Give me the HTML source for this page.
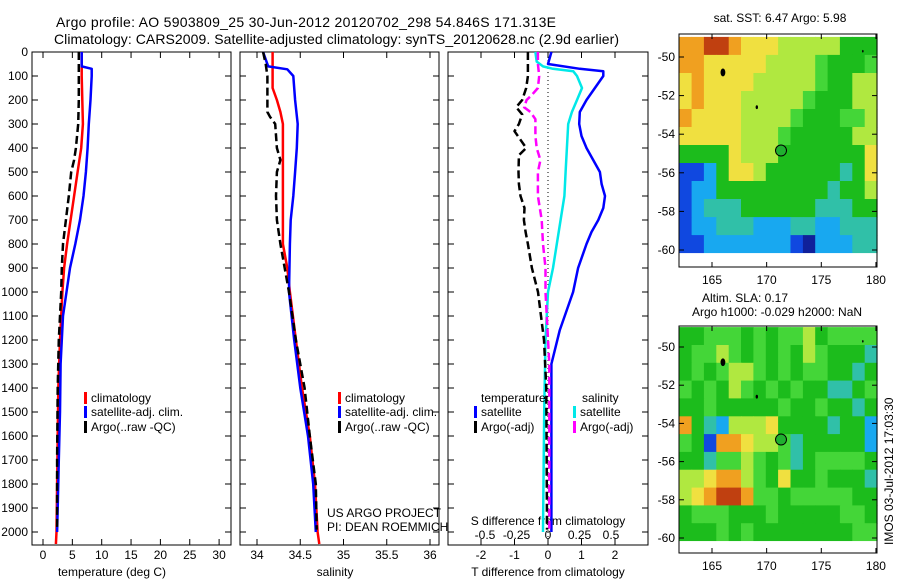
<!DOCTYPE html>
<html><head><meta charset="utf-8"><style>
html,body{margin:0;padding:0;background:#fff;}
svg{display:block;font-family:"Liberation Sans",sans-serif;}
</style></head><body>
<svg id="fig" width="900" height="580" viewBox="0 0 900 580" xmlns="http://www.w3.org/2000/svg">
<text x="56" y="27" font-size="14" textLength="500">Argo profile: AO 5903809_25 30-Jun-2012 20120702_298 54.846S 171.313E</text>
<text x="54" y="44" font-size="14" textLength="565">Climatology: CARS2009. Satellite-adjusted climatology: synTS_20120628.nc (2.9d earlier)</text>
<g id="g"></g>
</svg>
<script>
// ---- profile data ----
const tClimDepth=[0,100,200,300,400,500,600,700,800,900,1000,1200,1400,1600,1800,2000,2050];
const tClim=[6.6,6.6,6.7,6.8,6.5,5.9,5.3,4.7,4.1,3.6,3.3,2.9,2.6,2.5,2.4,2.3,2.2];
const tSatDepth=[0,60,70,100,200,300,400,500,600,700,800,900,1000,1100,1300,1500,1700,1900,2000];
const tSat=[6.6,6.6,8.3,8.3,8.1,7.8,7.6,7.3,6.9,6.3,5.5,4.6,4.0,3.4,3.0,2.9,2.7,2.5,2.4];
const tArgoDepth=[0,200,300,400,450,500,600,700,800,900,1000,1200,1400,1700,1990];
const tArgo=[6.1,6.1,6.0,5.6,5.3,4.8,4.4,3.9,3.4,3.2,3.1,2.7,2.5,2.4,2.4];
const sClimDepth=[0,150,200,250,300,800,900,1000,1200,1400,1600,1800,2000,2050];
const sClim=[34.18,34.18,34.23,34.27,34.30,34.30,34.35,34.38,34.45,34.52,34.61,34.67,34.70,34.72];
const sSatDepth=[0,60,72,100,200,300,400,500,600,700,800,1000,1200,1400,1600,1800,2000];
const sSat=[34.07,34.13,34.35,34.42,34.44,34.47,34.46,34.44,34.42,34.39,34.38,34.37,34.43,34.50,34.59,34.65,34.68];
const sArgoDepth=[0,50,100,250,270,300,400,450,500,600,700,800,900,1000,1200,1400,1600,1800,1990];
const sArgo=[34.07,34.10,34.12,34.12,34.15,34.21,34.23,34.27,34.23,34.22,34.23,34.27,34.32,34.37,34.45,34.55,34.61,34.68,34.69];
const dTSatDepth=[0,50,70,80,100,150,200,250,300,350,400,450,500,550,600,650,700,750,800,900,1000,1160,1300,1400,2000];
const dTSat=[0.1,0,0.95,1.65,1.65,1.4,1.15,0.95,0.93,1.0,1.15,1.35,1.55,1.6,1.7,1.65,1.5,1.3,1.15,0.9,0.75,0.35,0.1,0.1,0.1];
const dTArgoDepth=[0,100,150,200,230,260,300,330,370,400,430,500,550,600,650,700,750,800,900,1000,1200,1400,1990];
const dTArgo=[-0.6,-0.6,-0.65,-0.77,-0.95,-0.77,-0.87,-1.0,-0.8,-0.65,-0.87,-0.88,-0.87,-0.82,-0.7,-0.72,-0.67,-0.6,-0.48,-0.3,-0.12,-0.05,-0.03];
const dSSatDepth=[0,40,60,70,80,100,150,200,250,300,400,500,600,700,800,900,1000,1200,1500,2000];
const dSSat=[-0.1,-0.09,-0.04,0.04,0.2,0.23,0.27,0.23,0.19,0.16,0.15,0.14,0.13,0.1,0.07,0.04,0,-0.02,-0.03,-0.04];
const dSArgoDepth=[0,50,100,150,180,200,230,250,280,350,400,450,500,600,700,800,900,1000,1300,1990];
const dSArgo=[-0.08,-0.08,-0.07,-0.08,-0.13,-0.17,-0.19,-0.14,-0.1,-0.1,-0.09,-0.06,-0.08,-0.08,-0.05,-0.04,-0.02,-0.02,0.01,0.01];
const depthTicks=[0,100,200,300,400,500,600,700,800,900,1000,1100,1200,1300,1400,1500,1600,1700,1800,1900,2000];
const tTicks=[0,5,10,15,20,25,30];
const sTicks=[34,34.5,35,35.5,36];
const sTickLabels=["34","34.5","35","35.5","36"];
const dTTicks=[-2,-1,0,1,2];
const dSTicks=[-0.5,-0.25,0,0.25,0.5];
const dSTickLabels=["-0.5","-0.25","0","0.25","0.5"];
// ---- map data (levels 0-9) ----
const sstGrid=["8899877766666444","8877777666654445","7877776666654466","7877766666544466","8777766665444556","7777766654444466","4444766644444447","1124776444444347","1224444444443446","1233344444433344","1223332223322333","1122222221022233"];
const slaGrid=["4455545455645555","4556545454654443","4545665454554434","5454654545443345","4454444454454434","8432666744443442","5418876653444442","4435565453455554","6678865474454443","6789985545555544","4555444544444554","4445454444444455"];
const palette=["#10209a","#1048e0","#18a8f0","#30c0a8","#1cbc1c","#44d638","#b0e840","#f0e040","#f0a020","#c04010"];
const lonTicks=[165,170,175,180];
const latTicks=[-50,-52,-54,-56,-58,-60];
const argoLon=171.313, argoLat=-54.846;

const NS="http://www.w3.org/2000/svg";
const G=document.getElementById('g');
function el(tag,attrs,parent){const e=document.createElementNS(NS,tag);for(const k in attrs)e.setAttribute(k,attrs[k]);(parent||G).appendChild(e);return e;}
function txt(x,y,s,size,anchor,name){const t=el('text',{x:x,y:y,'font-size':size,'text-anchor':anchor||'start'});t.textContent=s;


return t;}

const pTop=52,pBot=545;
const yD=d=>pTop+d*0.24;
const panels=[{l:32,r:231},{l:240,r:439},{l:448,r:648}];
const xT=v=>43+v*5.87;
const xS=v=>257+(v-34)*86.5;
const xdT=v=>548+v*33.5;
const xdS=v=>548+v*126;

panels.forEach((p,i)=>{
  const r=el('rect',{x:p.l,y:pTop,width:p.r-p.l,height:pBot-pTop,fill:'none',stroke:'#000','stroke-width':1});
  
  
  depthTicks.forEach(d=>{
    el('line',{x1:p.l,x2:p.l+6,y1:yD(d),y2:yD(d),stroke:'#000'});
    el('line',{x1:p.r-6,x2:p.r,y1:yD(d),y2:yD(d),stroke:'#000'});
  });
});
depthTicks.forEach(d=>{txt(28,yD(d)+4,String(d),12,'end','depth-tick-label');});
function xticks(ticks,fx,labels,yl){ticks.forEach((v,i)=>{const x=fx(v);
  el('line',{x1:x,x2:x,y1:pTop,y2:pTop+6,stroke:'#000'});el('line',{x1:x,x2:x,y1:pBot-6,y2:pBot,stroke:'#000'});
  if(labels)txt(x,yl,labels[i],12,'middle','x-tick-label');});}
xticks(tTicks,xT,tTicks.map(String),559);
xticks(sTicks,xS,sTickLabels,559);
xticks(dTTicks,xdT,dTTicks.map(String),559);
dSTicks.forEach((v,i)=>txt(xdS(v),539,dSTickLabels[i],12,'middle','s-diff-tick-label'));
txt(112,576,'temperature (deg C)',12,'middle','x-axis-title-temperature');
txt(335,576,'salinity',12,'middle','x-axis-title-salinity');
txt(548,576,'T difference from climatology',12,'middle','x-axis-title-t-diff');
txt(548,525,'S difference from climatology',12,'middle','axis-title-s-diff');
txt(327,517,'US ARGO PROJECT',12,'start','project-label');
txt(327,531,'PI: DEAN ROEMMICH',12,'start','pi-label');
const z=el('line',{x1:548,x2:548,y1:pTop,y2:pBot,stroke:'#000','stroke-dasharray':'1,3'});



function series(depths,vals,fx,color,dash,name){
  const pts=depths.map((d,i)=>fx(vals[i]).toFixed(1)+','+yD(d).toFixed(1)).join(' ');
  const pl=el('polyline',{points:pts,fill:'none',stroke:color,'stroke-width':2.5,'stroke-linejoin':'round'});
  if(dash)pl.setAttribute('stroke-dasharray',dash);
  
  
}
series(tClimDepth,tClim,xT,'#f00',null,'temp-climatology-line');
series(tSatDepth,tSat,xT,'#00f',null,'temp-satellite-line');
series(tArgoDepth,tArgo,xT,'#000','8,4','temp-argo-line');
series(sClimDepth,sClim,xS,'#f00',null,'sal-climatology-line');
series(sSatDepth,sSat,xS,'#00f',null,'sal-satellite-line');
series(sArgoDepth,sArgo,xS,'#000','8,4','sal-argo-line');
series(dSSatDepth,dSSat,xdS,'#00e8e8',null,'s-diff-satellite-line');
series(dTSatDepth,dTSat,xdT,'#00f',null,'t-diff-satellite-line');
series(dSArgoDepth,dSArgo,xdS,'#f0f','8,4','s-diff-argo-line');
series(dTArgoDepth,dTArgo,xdT,'#000','8,4','t-diff-argo-line');

function legend(x,y,color,label){
  const m=el('rect',{x:x,y:y-10,width:3,height:12,fill:color});
  
  
  txt(x+7,y,label,12,'start','legend-entry');
}
legend(84,402,'#f00','climatology');legend(84,416,'#00f','satellite-adj. clim.');legend(84,431,'#000','Argo(..raw -QC)');
legend(338,402,'#f00','climatology');legend(338,416,'#00f','satellite-adj. clim.');legend(338,431,'#000','Argo(..raw -QC)');
txt(481,402,'temperature',12,'start','legend-title-temperature');
txt(582,402,'salinity',12,'start','legend-title-salinity');
legend(474,416,'#00f','satellite');legend(474,431,'#000','Argo(-adj)');
legend(573,416,'#00e8e8','satellite');legend(573,431,'#f0f','Argo(-adj)');

// ---- maps ----
const mx=lon=>712+(lon-165)*10.93;
const lonL=162.0,lonR=180.1,latT=-48.96,latB=-60.16;
function drawMap(grid,y0,scale,name,boxTop,boxBot){
  const my=lat=>y0+(-50-lat)*scale;
  const nr=grid.length,nc=grid[0].length;
  const dlon=(lonR-lonL)/nc,dlat=(latT-latB)/nr;
  for(let r=0;r<nr;r++)for(let c=0;c<nc;c++){
    const x1=mx(lonL+c*dlon),x2=mx(lonL+(c+1)*dlon),y1=Math.max(boxTop,my(latT-r*dlat)),y2=my(latT-(r+1)*dlat);
    const cell=el('rect',{x:x1.toFixed(1),y:y1.toFixed(1),width:(x2-x1+0.5).toFixed(1),height:(y2-y1+0.5).toFixed(1),fill:palette[+grid[r][c]]});
    
    
  }
  [[166,-50.8,3],[169.1,-52.6,1.5],[178.8,-49.7,1]].forEach(b=>{
    const e=el('ellipse',{cx:mx(b[0]),cy:my(b[1]),rx:b[2]*0.8,ry:b[2]*1.3,fill:'#000'});
    
    
  });
  const c=el('circle',{cx:mx(argoLon),cy:my(argoLat),r:5.5,fill:'#20b030',stroke:'#000','stroke-width':1});
  
  
  el('rect',{x:679,y:my(latB),width:199,height:boxBot-my(latB),fill:'#fff'});
  const b=el('rect',{x:679,y:boxTop,width:198,height:boxBot-boxTop,fill:'none',stroke:'#000'});
  
  
  lonTicks.forEach(l=>{const x=mx(l);el('line',{x1:x,x2:x,y1:boxTop,y2:boxTop+5,stroke:'#000'});el('line',{x1:x,x2:x,y1:boxBot-5,y2:boxBot,stroke:'#000'});
    txt(x,boxBot+17,String(l),12,'middle','lon-tick-label');});
  latTicks.forEach(l=>{const y=my(l);el('line',{x1:679,x2:684,y1:y,y2:y,stroke:'#000'});el('line',{x1:872,x2:877,y1:y,y2:y,stroke:'#000'});
    txt(675,y+4,String(l),12,'end','lat-tick-label');});
}
drawMap(sstGrid,57,19.3,'sst-map',34,267);
drawMap(slaGrid,347,19.1,'sla-map',326,553);
txt(780,22,'sat. SST: 6.47  Argo: 5.98',12,'middle','sst-map-title');
txt(745,302,'Altim. SLA: 0.17',12,'middle','sla-map-title');
txt(777,316,'Argo h1000: -0.029 h2000: NaN',12,'middle','sla-map-subtitle');
const im=txt(0,0,'IMOS 03-Jul-2012 17:03:30',12,'start','timestamp-label');
im.setAttribute('transform','translate(893,545) rotate(-90)');
</script>
</body></html>
